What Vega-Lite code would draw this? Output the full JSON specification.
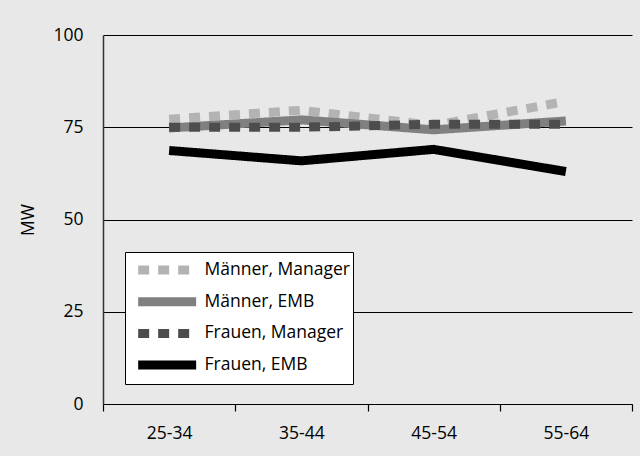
{
  "$schema": "https://vega.github.io/schema/vega-lite/v6.json",
  "width": 529,
  "height": 369,
  "autosize": {"type": "none"},
  "padding": {"left": 103, "top": 35, "right": 8, "bottom": 52},
  "background": "#e7e8e7",
  "config": {"view": {"stroke": null}, "font": "Open Sans"},
  "data": {
    "values": [
      {"series": "Männer, Manager", "age": "25-34", "mw": 77.2},
      {"series": "Männer, Manager", "age": "35-44", "mw": 79.6},
      {"series": "Männer, Manager", "age": "45-54", "mw": 75.5},
      {"series": "Männer, Manager", "age": "55-64", "mw": 82.0},
      {"series": "Männer, EMB", "age": "25-34", "mw": 74.8},
      {"series": "Männer, EMB", "age": "35-44", "mw": 77.0},
      {"series": "Männer, EMB", "age": "45-54", "mw": 74.3},
      {"series": "Männer, EMB", "age": "55-64", "mw": 76.7},
      {"series": "Frauen, Manager", "age": "25-34", "mw": 75.0},
      {"series": "Frauen, Manager", "age": "35-44", "mw": 75.0},
      {"series": "Frauen, Manager", "age": "45-54", "mw": 75.8},
      {"series": "Frauen, Manager", "age": "55-64", "mw": 75.8},
      {"series": "Frauen, EMB", "age": "25-34", "mw": 68.7},
      {"series": "Frauen, EMB", "age": "35-44", "mw": 65.9},
      {"series": "Frauen, EMB", "age": "45-54", "mw": 69.0},
      {"series": "Frauen, EMB", "age": "55-64", "mw": 63.0}
    ]
  },
  "mark": {"type": "line", "strokeWidth": 9, "strokeCap": "butt", "strokeJoin": "miter"},
  "encoding": {
    "x": {
      "field": "age", "type": "ordinal",
      "scale": {"type": "band", "paddingInner": 0, "paddingOuter": 0},
      "axis": {"title": null, "labelAngle": 0, "tickBand": "extent", "domainColor": "#000000", "domainWidth": 1.2, "tickColor": "#000000", "tickWidth": 1.2, "tickSize": 7, "labelPadding": 13, "labelFontSize": 17.5, "labelColor": "#000000", "grid": false}
    },
    "y": {
      "field": "mw", "type": "quantitative",
      "scale": {"domain": [0, 100]},
      "axis": {"values": [0, 25, 50, 75, 100], "grid": true, "gridColor": "#000000", "gridWidth": 1, "ticks": false, "domainColor": "#333333", "domainWidth": 1.5, "labelPadding": 20, "labelFontSize": 17.5, "labelColor": "#000000", "title": "MW", "titleFontSize": 17.5, "titleFontWeight": "normal", "titleColor": "#000000", "titlePadding": 15}
    },
    "color": {
      "field": "series", "type": "nominal",
      "scale": {"domain": ["Männer, Manager", "Männer, EMB", "Frauen, Manager", "Frauen, EMB"], "range": ["#b3b3b3", "#808080", "#4d4d4d", "#000000"]},
      "legend": {"orient": "none", "legendX": 22, "legendY": 217, "title": null, "fillColor": "#ffffff", "strokeColor": "#000000", "padding": 3, "clipHeight": 30, "symbolType": "M0.94,0H39.6", "symbolSize": 9, "symbolStrokeWidth": 9, "labelFontSize": 17.5, "labelColor": "#000000", "labelOffset": 59, "rowPadding": 1.7, "labelExpr": "datum.label + '\u00a0\u00a0'"}
    },
    "strokeDash": {
      "field": "series", "type": "nominal",
      "scale": {"domain": ["Männer, Manager", "Männer, EMB", "Frauen, Manager", "Frauen, EMB"], "range": [[11, 9], [1, 0], [11, 9], [1, 0]]},
      "legend": {"orient": "none", "legendX": 22, "legendY": 217, "title": null, "fillColor": "#ffffff", "strokeColor": "#000000", "padding": 3, "clipHeight": 30, "symbolType": "M0.94,0H39.6", "symbolSize": 9, "symbolStrokeWidth": 9, "labelFontSize": 17.5, "labelColor": "#000000", "labelOffset": 59, "rowPadding": 1.7, "labelExpr": "datum.label + '\u00a0\u00a0'"}
    }
  }
}
